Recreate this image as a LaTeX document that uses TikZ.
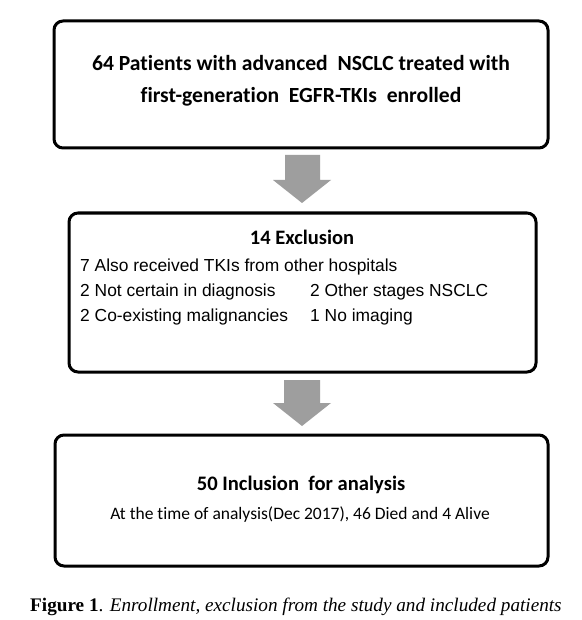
\documentclass[tikz,border=0pt]{standalone}
\usepackage{fontspec}
\setmainfont[Ligatures=NoCommon]{Carlito}
\newfontfamily\arialf{Liberation Sans}
\newfontfamily\timesf{Liberation Serif}
\begin{document}
\begin{tikzpicture}[x=1pt,y=-1pt,
  flowbox/.style={draw=black, line width=3pt, rounded corners=9pt},
  bigarrow/.style={fill=black!38, draw=none},
  excl/.style={font=\arialf\fontsize{17.4}{20}\selectfont, anchor=west, inner sep=0pt}]
\useasboundingbox (0,0) rectangle (581,620);
\fill[white] (0,0) rectangle (581,620);
% boxes
\draw[flowbox] (54,21) rectangle (548,148);
\draw[flowbox] (69,213) rectangle (536,372);
\draw[flowbox] (55,435) rectangle (548,566);
% texts
\node[font=\bfseries\fontsize{21.6}{32}\selectfont, align=center] (t1) at (301,81)
  {64 Patients with advanced\ \ NSCLC treated with\\first-generation\ \ EGFR-TKIs\ \ enrolled};
\node[font=\bfseries\fontsize{20.5}{22}\selectfont] (t2) at (302,237) {14 Exclusion};
\node[excl] (e1) at (80,267) {7 Also received TKIs\ from other hospitals};
\node[excl] (e2) at (80,292) {2 Not certain in\ diagnosis};
\node[excl] (e3) at (80,317) {2 Co-existing malignancies};
\node[excl] (e4) at (310,292) {2 Other stages NSCLC};
\node[excl] (e5) at (310,317) {1 No imaging};
\node[font=\bfseries\fontsize{20.6}{22}\selectfont] (t3) at (301,485) {50 Inclusion\ \ for analysis};
\node[font=\fontsize{17.5}{20}\selectfont] (t4) at (300,515) {At the time of analysis(Dec 2017), 46 Died and 4 Alive};
\node[font=\timesf\fontsize{19.2}{22}\selectfont, anchor=west, inner sep=0pt] (cap) at (30,607) {\textbf{Figure 1}. \textit{Enrollment, exclusion from the study and included patients}};
% arrows
\fill[bigarrow] (285,155) -- (320,155) -- (320,180) -- (331,180) -- (302,203) -- (273,180) -- (285,180) -- cycle;
\fill[bigarrow] (284,380) -- (320,380) -- (320,403) -- (331,403) -- (302,426) -- (273,403) -- (284,403) -- cycle;
\end{tikzpicture}
\end{document}
